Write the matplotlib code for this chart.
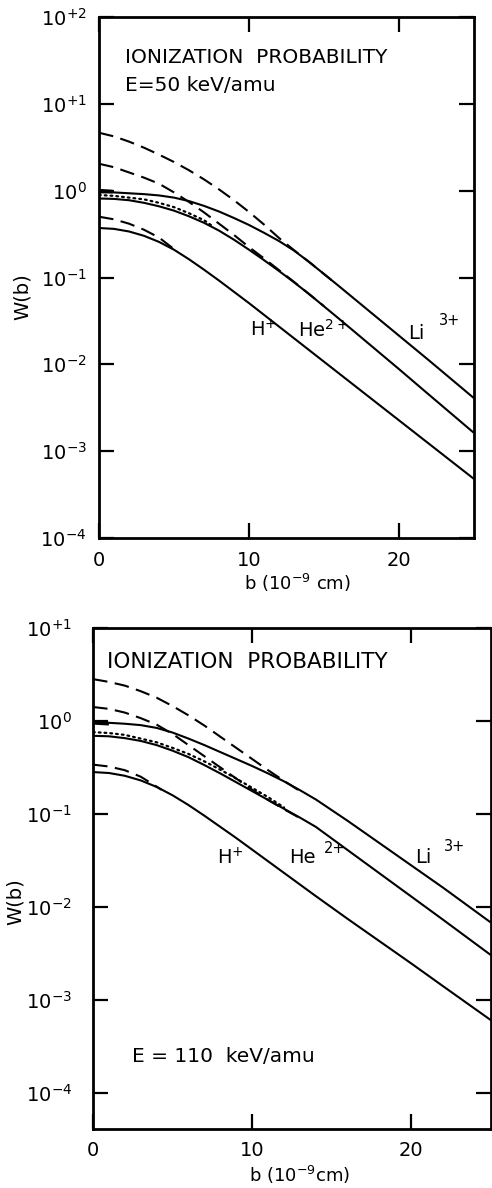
"""Redraw of the impact-parameter ionization probability W(b) plots (50 and 110 keV/amu)."""
import matplotlib

matplotlib.use("Agg")
import matplotlib.pyplot as plt
import numpy as np

# ---- values (log10 of W(b)) ----
# upper panel, E = 50 keV/amu
b_full = [0, 1, 2, 3, 4, 5, 6, 7, 8, 9, 10, 11, 12, 13, 14, 16, 18, 20, 22, 25]
li50_solid = [-0.02, -0.02, -0.03, -0.04, -0.055, -0.08, -0.12, -0.175, -0.24, -0.315,
              -0.395, -0.485, -0.58, -0.69, -0.82, -1.10, -1.385, -1.67, -1.955, -2.39]
he50_solid = [-0.09, -0.095, -0.11, -0.14, -0.18, -0.23, -0.295, -0.37, -0.46, -0.565,
              -0.68, -0.80, -0.925, -1.055, -1.19, -1.475, -1.765, -2.055, -2.35, -2.79]
h50_solid = [-0.43, -0.44, -0.47, -0.52, -0.59, -0.68, -0.79, -0.91, -1.035, -1.165,
             -1.295, -1.43, -1.565, -1.70, -1.835, -2.105, -2.375, -2.645, -2.915, -3.32]

li50_dash_b = [0, 1, 2, 3, 4, 5, 6, 7, 8, 9, 10, 11, 12, 13, 14, 15.5]
li50_dash = [0.667, 0.625, 0.565, 0.495, 0.415, 0.33, 0.235, 0.13, 0.015, -0.11,
             -0.245, -0.39, -0.545, -0.685, -0.82, -1.03]
he50_dash_b = [0, 1, 2, 3, 4, 5, 6, 7, 8, 9, 10, 11, 12, 13, 14, 15]
he50_dash = [0.31, 0.27, 0.21, 0.15, 0.08, -0.02, -0.13, -0.25, -0.38, -0.51,
             -0.65, -0.78, -0.915, -1.05, -1.19, -1.33]
h50_dash_b = [0, 1, 2, 3, 4, 5.2]
h50_dash = [-0.30, -0.33, -0.38, -0.45, -0.54, -0.70]
he50_dot_b = [0, 1, 2, 3, 4, 5, 6, 7, 7.5]
he50_dot = [-0.05, -0.06, -0.08, -0.10, -0.14, -0.19, -0.26, -0.34, -0.40]
mark50_b = [0, 0.9]
mark50 = [0.0, -0.01]

# lower panel, E = 110 keV/amu
li110_solid = [-0.02, -0.02, -0.03, -0.045, -0.075, -0.125, -0.19, -0.26, -0.335, -0.41,
               -0.485, -0.565, -0.65, -0.745, -0.845, -1.075, -1.315, -1.555, -1.795, -2.17]
he110_solid = [-0.16, -0.165, -0.185, -0.215, -0.26, -0.32, -0.39, -0.475, -0.565, -0.66,
               -0.755, -0.85, -0.945, -1.04, -1.14, -1.39, -1.64, -1.89, -2.14, -2.52]
h110_solid = [-0.55, -0.56, -0.59, -0.64, -0.71, -0.80, -0.905, -1.02, -1.14, -1.26,
              -1.385, -1.51, -1.635, -1.76, -1.885, -2.13, -2.37, -2.61, -2.855, -3.22]

li110_dash_b = [0, 1, 2, 3, 4, 5, 6, 7, 8, 9, 10, 11, 12, 13]
li110_dash = [0.45, 0.42, 0.38, 0.32, 0.25, 0.16, 0.06, -0.05, -0.17, -0.29,
              -0.41, -0.53, -0.645, -0.755]
he110_dash_b = [0, 1, 2, 3, 4, 5, 6, 7, 8, 9, 10, 11, 12, 13]
he110_dash = [0.15, 0.13, 0.09, 0.03, -0.04, -0.14, -0.26, -0.38, -0.50, -0.62,
              -0.74, -0.85, -0.95, -1.045]
h110_dash_b = [0, 1, 2, 3, 4.3]
h110_dash = [-0.47, -0.49, -0.53, -0.60, -0.74]
he110_dot_b = [0, 1, 2, 3, 4, 5, 6, 7, 8, 9, 10, 11, 12]
he110_dot = [-0.12, -0.13, -0.15, -0.19, -0.23, -0.29, -0.355, -0.435, -0.525, -0.62,
             -0.72, -0.82, -0.93]
mark110_b = [0, 1.0]
mark110 = [-0.02, -0.03]

x_ticks = [0, 10, 20]
x_tick_labels = ["0", "10", "20"]
top_decades = [2, 1, 0, -1, -2, -3, -4]
top_labels = [r"$10^{+2}$", r"$10^{+1}$", r"$10^{0}$", r"$10^{-1}$",
              r"$10^{-2}$", r"$10^{-3}$", r"$10^{-4}$"]
bot_decades = [1, 0, -1, -2, -3, -4]
bot_labels = [r"$10^{+1}$", r"$10^{0}$", r"$10^{-1}$", r"$10^{-2}$",
              r"$10^{-3}$", r"$10^{-4}$"]

plt.rcParams["font.family"] = ["DejaVu Sans"]
plt.rcParams["mathtext.default"] = "regular"

LW = 1.5
DASH = (7, 3.6)
DOT = (0.8, 1.8)


def w(vals):
    return 10.0 ** np.asarray(vals)


def setup_axes(ax, ylim, decades, labels, ypad):
    ax.set_yscale("log")
    ax.set_xlim(0, 25)
    ax.set_ylim(*ylim)
    ax.set_xticks(x_ticks)
    ax.set_xticklabels(x_tick_labels, fontsize=14)
    ax.set_yticks([10.0 ** d for d in decades])
    ax.set_yticklabels(labels, fontsize=14)
    ax.yaxis.set_minor_locator(matplotlib.ticker.NullLocator())
    ax.tick_params(which="major", direction="in", length=11, width=1.6,
                   top=True, right=True)
    ax.tick_params(axis="x", pad=9)
    ax.tick_params(axis="y", pad=ypad)
    for sp in ax.spines.values():
        sp.set_linewidth(2.0)


def draw_curves(ax, solids, dashes, dots, mark):
    for ys in solids:
        ax.plot(b_full, w(ys), color="black", lw=LW, solid_capstyle="butt")
    for xs, ys in dashes:
        ax.plot(xs, w(ys), color="black", lw=LW, dashes=DASH, dash_capstyle="butt")
    for xs, ys in dots:
        ax.plot(xs, w(ys), color="black", lw=1.6, dashes=DOT, dash_capstyle="round")
    xs, ys = mark
    ax.plot(xs, w(ys), color="black", lw=2.6, solid_capstyle="butt")


fig = plt.figure(figsize=(4.92, 11.88), dpi=100)

# upper panel
ax1 = fig.add_axes([99 / 492, 1 - 538 / 1188, 375 / 492, 521 / 1188])
setup_axes(ax1, (1e-4, 1e2), top_decades, top_labels, ypad=9)
draw_curves(ax1,
            [li50_solid, he50_solid, h50_solid],
            [(li50_dash_b, li50_dash), (he50_dash_b, he50_dash), (h50_dash_b, h50_dash)],
            [(he50_dot_b, he50_dot)],
            (mark50_b, mark50))
t = ax1.transAxes
ax1.text(0.069, 0.923, "IONIZATION  PROBABILITY", transform=t, fontsize=14.5, va="center")
ax1.text(0.069, 0.869, "E=50 keV/amu", transform=t, fontsize=14.5, va="center")
ax1.text(0.403, 0.399, r"H$^{+}$", transform=t, fontsize=14, va="center")
ax1.text(0.531, 0.399, r"He$^{2+}$", transform=t, fontsize=14, va="center")
ax1.text(0.824, 0.393, "Li", transform=t, fontsize=14, va="center")
ax1.text(0.906, 0.418, "3+", transform=t, fontsize=10.5, va="center")
ax1.text(0.528, -0.087, r"b (10$^{-9}$ cm)", transform=t, fontsize=13,
         ha="center", va="center")
ax1.text(-0.205, 0.463, "W(b)", transform=t, fontsize=14, rotation=90,
         ha="center", va="center")

# lower panel
ax2 = fig.add_axes([93 / 492, 1 - 1129 / 1188, 398 / 492, 501 / 1188])
setup_axes(ax2, (10 ** -4.39, 1e1), bot_decades, bot_labels, ypad=15)
draw_curves(ax2,
            [li110_solid, he110_solid, h110_solid],
            [(li110_dash_b, li110_dash), (he110_dash_b, he110_dash),
             (h110_dash_b, h110_dash)],
            [(he110_dot_b, he110_dot)],
            (mark110_b, mark110))
t = ax2.transAxes
ax2.text(0.035, 0.932, "IONIZATION  PROBABILITY", transform=t, fontsize=15.5, va="center")
ax2.text(0.098, 0.144, "E = 110  keV/amu", transform=t, fontsize=14.5, va="center")
ax2.text(0.311, 0.541, r"H$^{+}$", transform=t, fontsize=14, va="center")
ax2.text(0.494, 0.541, "He", transform=t, fontsize=14, va="center")
ax2.text(0.581, 0.560, "2+", transform=t, fontsize=10.5, va="center")
ax2.text(0.81, 0.541, "Li", transform=t, fontsize=14, va="center")
ax2.text(0.882, 0.563, "3+", transform=t, fontsize=10.5, va="center")
ax2.text(0.52, -0.092, r"b (10$^{-9}$cm)", transform=t, fontsize=13,
         ha="center", va="center")
ax2.text(-0.195, 0.453, "W(b)", transform=t, fontsize=14, rotation=90,
         ha="center", va="center")

fig.savefig("out.png", dpi=100)
plt.close(fig)
